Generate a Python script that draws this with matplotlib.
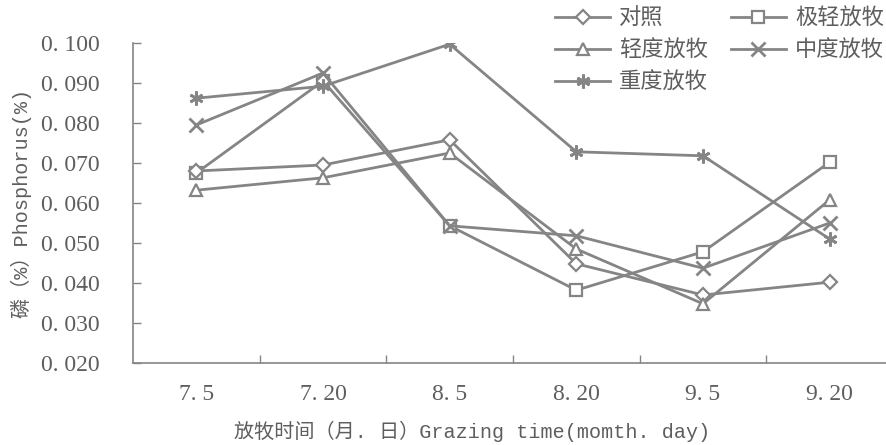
import matplotlib
matplotlib.use("Agg")
import matplotlib.pyplot as plt
from matplotlib.lines import Line2D

# Grazing dates (month.day) and phosphorus content (%) per grazing intensity
dates = ["7. 5", "7. 20", "8. 5", "8. 20", "9. 5", "9. 20"]
control = [0.068, 0.0695, 0.0758, 0.0448, 0.0370, 0.0402]
very_light = [0.0675, 0.0905, 0.0543, 0.0382, 0.0478, 0.0702]
light = [0.0632, 0.0663, 0.0725, 0.0485, 0.0348, 0.0608]
moderate = [0.0795, 0.0925, 0.0543, 0.0518, 0.0437, 0.0550]
heavy = [0.0862, 0.0892, 0.0997, 0.0728, 0.0718, 0.0510]
names = ["对照", "极轻放牧", "轻度放牧", "中度放牧", "重度放牧"]
y_ticks = [0.020, 0.030, 0.040, 0.050, 0.060, 0.070, 0.080, 0.090, 0.100]

GRAY = "#858585"
TEXT = "#5e5e5e"
MONO = ["Liberation Mono", "Noto Sans CJK SC", "DejaVu Sans"]
SERIF = ["Liberation Serif", "DejaVu Serif"]
plt.rcParams["font.family"] = MONO

fig = plt.figure(figsize=(8.87, 4.45), dpi=100)
ax = fig.add_axes([133 / 887, 1 - 363 / 445, 760 / 887, 320 / 445])

series = [control, very_light, light, moderate, heavy]
styles = [
    dict(marker="D", ms=7, mfc="white", mew=1.6),
    dict(marker="s", ms=8, mfc="white", mew=1.6),
    dict(marker="^", ms=9, mfc="white", mew=1.6),
    dict(marker="x", ms=10, mew=2.0),
    dict(marker=(6, 2, 0), ms=10, mew=2.0),
]
x = list(range(len(dates)))
zorders = [3, 2, 3, 4, 4]
for vals, st, z in zip(series, styles, zorders):
    ax.plot(x, vals, color=GRAY, mec=GRAY, lw=2.0, zorder=z, **st)

ax.set_xlim(-0.5, len(dates) - 0.5)
ax.set_ylim(0.020, 0.100)
ax.set_yticks(y_ticks)
ax.set_yticklabels([f"{v:.3f}".replace(".", ". ") for v in y_ticks],
                   family=SERIF, fontsize=17)

# category boundaries carry the x tick marks
ax.set_xticks([i + 0.5 for i in range(len(dates) - 1)])
ax.set_xticklabels([])
for i, d in enumerate(dates):
    ax.text(i, -0.10, d, transform=ax.get_xaxis_transform(), ha="center",
            va="center", fontsize=17, color=TEXT, family=SERIF)

for s in ("top", "right"):
    ax.spines[s].set_visible(False)
for s in ("left", "bottom"):
    ax.spines[s].set_color(GRAY)
    ax.spines[s].set_linewidth(1.2)
ax.tick_params(axis="both", direction="in", length=6, width=1.0, color=GRAY,
               labelcolor=TEXT, pad=24)

fig.text(472 / 887, 1 - 431 / 445, "放牧时间（月. 日）Grazing time(momth. day)",
         ha="center", va="center", fontsize=14.5, color=TEXT, family=MONO)
fig.text(21 / 887, 1 - 203 / 445, "磷（%）Phosphorus(%)", rotation=90,
         ha="center", va="center", fontsize=14.5, color=TEXT, family=MONO)

handles = [Line2D([], [], color=GRAY, mec=GRAY, lw=2.0, **st) for st in styles]
order = [0, 2, 4, 1, 3]
leg = fig.legend([handles[i] for i in order], [names[i] for i in order],
                 ncol=2, loc="upper right", bbox_to_anchor=(884 / 887, 1 - 7 / 445),
                 frameon=False, handlelength=2.5, borderpad=0, borderaxespad=0,
                 columnspacing=1.0, labelspacing=0.4, handletextpad=0.4,
                 prop=dict(family=["Noto Sans CJK SC"], size=16))
for t in leg.get_texts():
    t.set_color(TEXT)

fig.savefig("out.png", dpi=100, facecolor="white")
